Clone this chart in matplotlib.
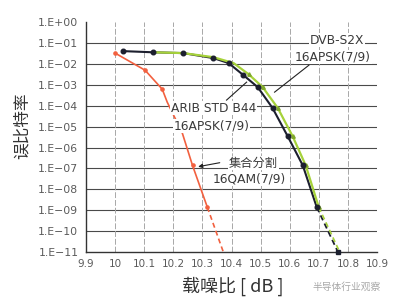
import matplotlib
matplotlib.use("Agg")
import matplotlib.pyplot as plt

plt.rcParams['font.family'] = ['Noto Sans CJK SC', 'DejaVu Sans']

# C/N [dB] vs bit error rate
arib_x = [10.028, 10.131, 10.234, 10.338, 10.39, 10.441, 10.49, 10.541, 10.593, 10.645, 10.693]
arib_y = [4.1e-2, 3.6e-2, 3.3e-2, 1.9e-2, 1.1e-2, 2.9e-3, 7.8e-4, 7.8e-5, 3.5e-6, 1.4e-7, 1.4e-9]
arib_tail_x = [10.693, 10.766]
arib_tail_y = [1.4e-9, 1e-11]

dvb_x = [10.131, 10.234, 10.338, 10.407, 10.459, 10.507, 10.559, 10.61, 10.655, 10.7]
dvb_y = [3.6e-2, 3.3e-2, 2.1e-2, 1.1e-2, 3.2e-3, 7.8e-4, 7.8e-5, 3.5e-6, 1.4e-7, 1.4e-9]
dvb_tail_x = [10.7, 10.772]
dvb_tail_y = [1.4e-9, 1e-11]

qam_x = [10.0, 10.103, 10.162, 10.179, 10.231, 10.266, 10.317]
qam_y = [3.3e-2, 5e-3, 6.2e-4, 1.5e-4, 4.9e-6, 1.4e-7, 1.4e-9]
qam_marks = [0, 1, 2, 5, 6]
qam_tail_x = [10.317, 10.372]
qam_tail_y = [1.4e-9, 1e-11]

x_ticks = [9.9, 10.0, 10.1, 10.2, 10.3, 10.4, 10.5, 10.6, 10.7, 10.8, 10.9]
x_labels = ['9.9', '10', '10.1', '10.2', '10.3', '10.4', '10.5', '10.6', '10.7', '10.8', '10.9']
y_ticks = [10.0 ** -k for k in range(12)]
y_labels = ['1.E+00'] + ['1.E\u2212%02d' % k for k in range(1, 12)]

black = '#1c1f2e'
green = '#a6d23a'
red = '#f2603f'
grey_txt = '#5a5a5a'

fig = plt.figure(figsize=(4, 3.03), dpi=100)
ax = fig.add_axes([0.215, 0.168, 0.7275, 0.759])

ax.set_yscale('log')
ax.set_xlim(9.9, 10.9)
ax.set_ylim(1e-11, 1.0)

# grid: solid horizontals, dashed verticals
for v in y_ticks[1:-1]:
    ax.axhline(v, color='#4a4a4a', lw=0.8, zorder=1)
for v in x_ticks[1:-1]:
    ax.axvline(v, color='#a8a8a8', lw=0.7, ls=(0, (6, 2)), zorder=1)

ax.plot(arib_x, arib_y, color=black, lw=1.5, zorder=3)
ax.plot(arib_tail_x, arib_tail_y, color=black, lw=1.3, ls=(0, (3, 2)), zorder=3)
ax.plot(arib_tail_x[-1:], arib_tail_y[-1:], marker='s', ms=3.5, color=black, clip_on=False, zorder=5)

ax.plot(dvb_x, dvb_y, color=green, lw=1.6, zorder=4)
ax.plot(dvb_x[4:], dvb_y[4:], ls='none', marker='^', ms=2.5, color='#7fa82a', zorder=4)
ax.plot(dvb_tail_x, dvb_tail_y, color=green, lw=1.2, ls=(0, (3, 2)), zorder=3)

ax.plot(arib_x, arib_y, ls='none', marker='o', ms=3.3, color=black, zorder=5)

ax.plot(qam_x, qam_y, color=red, lw=1.2, zorder=3)
ax.plot([qam_x[i] for i in qam_marks], [qam_y[i] for i in qam_marks],
        ls='none', marker='o', ms=2.3, color=red, zorder=4)
ax.plot(qam_tail_x, qam_tail_y, color=red, lw=1.2, ls=(0, (3, 2)), zorder=3)

ax.set_xticks(x_ticks)
ax.set_xticklabels(x_labels, fontfamily='DejaVu Sans', fontsize=7.5)
ax.set_yticks(y_ticks)
ax.set_yticklabels(y_labels, fontfamily='DejaVu Sans', fontsize=7.8)
ax.minorticks_off()
ax.tick_params(axis='both', length=0, colors=grey_txt)
ax.tick_params(axis='y', pad=5.5)
ax.tick_params(axis='x', pad=5)

for s in ['top', 'right']:
    ax.spines[s].set_visible(False)
for s in ['left', 'bottom']:
    ax.spines[s].set_color('#333333')
    ax.spines[s].set_linewidth(1.0)

ax.set_ylabel('误比特率', fontsize=12, color='#333333')
ax.yaxis.set_label_coords(-0.19, 0.548)
ax.set_xlabel('载噪比 [ dB ]', fontsize=13, color='#333333')
ax.xaxis.set_label_coords(0.505, -0.105)

box = dict(facecolor='white', edgecolor='none', pad=0.5)
lab = dict(fontsize=8.8, color='#3a3a3a', ha='center', va='center', bbox=box, zorder=6,
           fontfamily='DejaVu Sans')
ax.text(10.762, 10 ** -0.86, 'DVB-S2X', **lab)
ax.text(10.748, 10 ** -1.67, '16APSK(7/9)', **lab)
ax.plot([10.666, 10.548], [10 ** -2.06, 10 ** -3.35], color='#222222', lw=0.8, zorder=6)

ax.text(10.338, 10 ** -4.11, 'ARIB STD B44', **lab)
ax.text(10.331, 10 ** -4.98, '16APSK(7/9)', **lab)
ax.plot([10.383, 10.452], [10 ** -3.73, 10 ** -2.87], color='#222222', lw=0.8, zorder=6)

lab_cjk = dict(lab, fontfamily=['Noto Sans CJK SC', 'DejaVu Sans'])
ax.text(10.476, 10 ** -6.75, '集合分割', **lab_cjk)
ax.text(10.462, 10 ** -7.5, '16QAM(7/9)', **lab)
ax.annotate('', xy=(10.276, 10 ** -6.94), xytext=(10.369, 10 ** -6.70),
            arrowprops=dict(arrowstyle='-|>', color='#222222', lw=0.8,
                            mutation_scale=6), zorder=6)

fig.text(0.782, 0.052, '半导体行业观察', fontsize=7, color='#a8a8a8', ha='left', va='center')

fig.savefig('out.png', dpi=100)
